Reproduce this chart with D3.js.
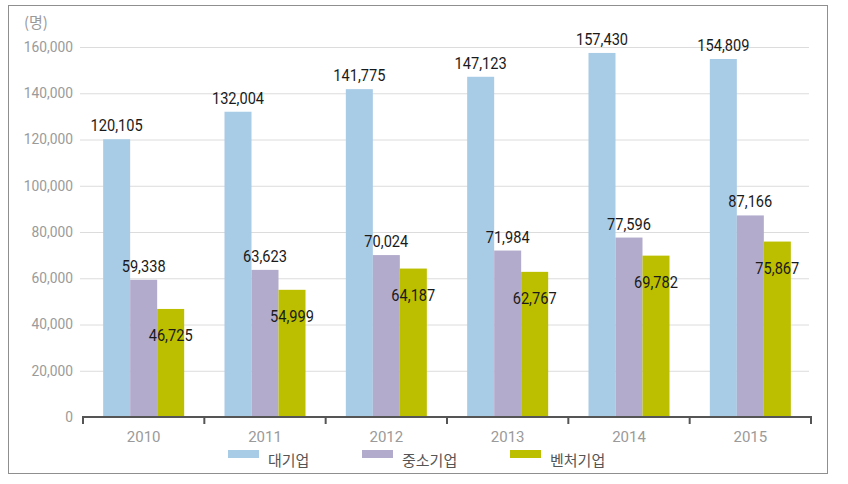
<!DOCTYPE html>
<html><head><meta charset="utf-8">
<script src="https://cdn.jsdelivr.net/npm/d3@7"></script>
<style>
html,body{margin:0;padding:0;background:#fff;}
svg{display:block;}
</style></head>
<body>
<svg id="chart" width="848" height="484"></svg>
<script>
const years = ["2010","2011","2012","2013","2014","2015"];
const seriesNames = ["대기업","중소기업","벤처기업"];
const large = [120105,132004,141775,147123,157430,154809];
const sme = [59338,63623,70024,71984,77596,87166];
const venture = [46725,54999,64187,62767,69782,75867];
const yTicks = [0,20000,40000,60000,80000,100000,120000,140000,160000];
const colors = ["#a8cbe6","#b3abcc","#bcbf00"];
const unitLabel = "(명)";

const seriesValues = [large, sme, venture];
const svg = d3.select("#chart");
const fontNum = "Roboto, 'Liberation Sans', sans-serif";
const fontKo = "'Noto Sans CJK KR', 'Noto Sans', sans-serif";

// frame
svg.append("rect").attr("x",8.5).attr("y",5.5).attr("width",819).attr("height",468)
  .attr("fill","none").attr("stroke","#8f8f8f").attr("stroke-width",1);

const x0 = 83, x1 = 811;
const y = d3.scaleLinear().domain([0,160000]).range([417,47]);
const xb = d3.scaleBand().domain(years).range([x0,x1]).paddingInner(0).paddingOuter(0);
const barW = 27;
const xs = d3.scaleBand().domain([0,1,2]).range([0, barW*3]);

// gridlines
svg.append("g").selectAll("line").data(yTicks.filter(d=>d>0)).join("line")
  .attr("x1",80).attr("x2",809).attr("y1",d=>y(d)+0.5).attr("y2",d=>y(d)+0.5)
  .attr("stroke","#dcdcdc").attr("stroke-width",1);

// y tick labels
svg.append("g").selectAll("text").data(yTicks).join("text")
  .attr("x",73).attr("y",d=>y(d)+5).attr("text-anchor","end")
  .attr("font-family",fontNum).attr("font-size",15).attr("fill","#9a9a9a")
  .attr("transform",`translate(73,0) scale(0.92,1) translate(-73,0)`)
  .text(d=>d3.format(",")(d));

svg.append("text").attr("x",24).attr("y",28).attr("font-family",fontKo)
  .attr("font-size",15).attr("fill","#9a9a9a").text(unitLabel);

// bars
const g = svg.append("g");
years.forEach((yr,i)=>{
  const gx = xb(yr) + (xb.bandwidth() - barW*3)/2;
  seriesValues.forEach((vals,s)=>{
    const v = vals[i];
    g.append("rect").attr("x",gx+xs(s)).attr("y",y(v)).attr("width",barW)
      .attr("height",y(0)-y(v)).attr("fill",colors[s]);
    const cx = gx + xs(s) + barW/2;
    const ty = s===2 ? y(v)+32 : y(v)-8;
    g.append("text").attr("x",cx).attr("y",ty).attr("text-anchor","middle")
      .attr("font-family",fontNum).attr("font-size",17).attr("font-weight",400)
      .attr("fill","#1a1a1a")
      .attr("transform",`translate(${cx},0) scale(0.86,1) translate(${-cx},0)`)
      .text(d3.format(",")(v));
  });
});

// x axis
svg.append("line").attr("x1",x0).attr("x2",x1).attr("y1",417).attr("y2",417)
  .attr("stroke","#555").attr("stroke-width",2);
const tickXs = years.map(d=>xb(d)).concat([x1]);
svg.append("g").selectAll("line").data(tickXs).join("line")
  .attr("x1",d=>d).attr("x2",d=>d).attr("y1",416).attr("y2",424)
  .attr("stroke","#555").attr("stroke-width",2);
svg.append("g").selectAll("text").data(years).join("text")
  .attr("x",d=>xb(d)+xb.bandwidth()/2).attr("y",442).attr("text-anchor","middle")
  .attr("font-family",fontNum).attr("font-size",15).attr("fill","#9a9a9a")
  .text(d=>d);

// legend
const legX = [228,362,510];
seriesNames.forEach((n,s)=>{
  svg.append("rect").attr("x",legX[s]).attr("y",450).attr("width",31).attr("height",8)
    .attr("fill",colors[s]);
  svg.append("text").attr("x",legX[s]+40).attr("y",466)
    .attr("font-family",fontKo).attr("font-size",15).attr("fill","#555")
    .text(n);
});
</script>
</body></html>
